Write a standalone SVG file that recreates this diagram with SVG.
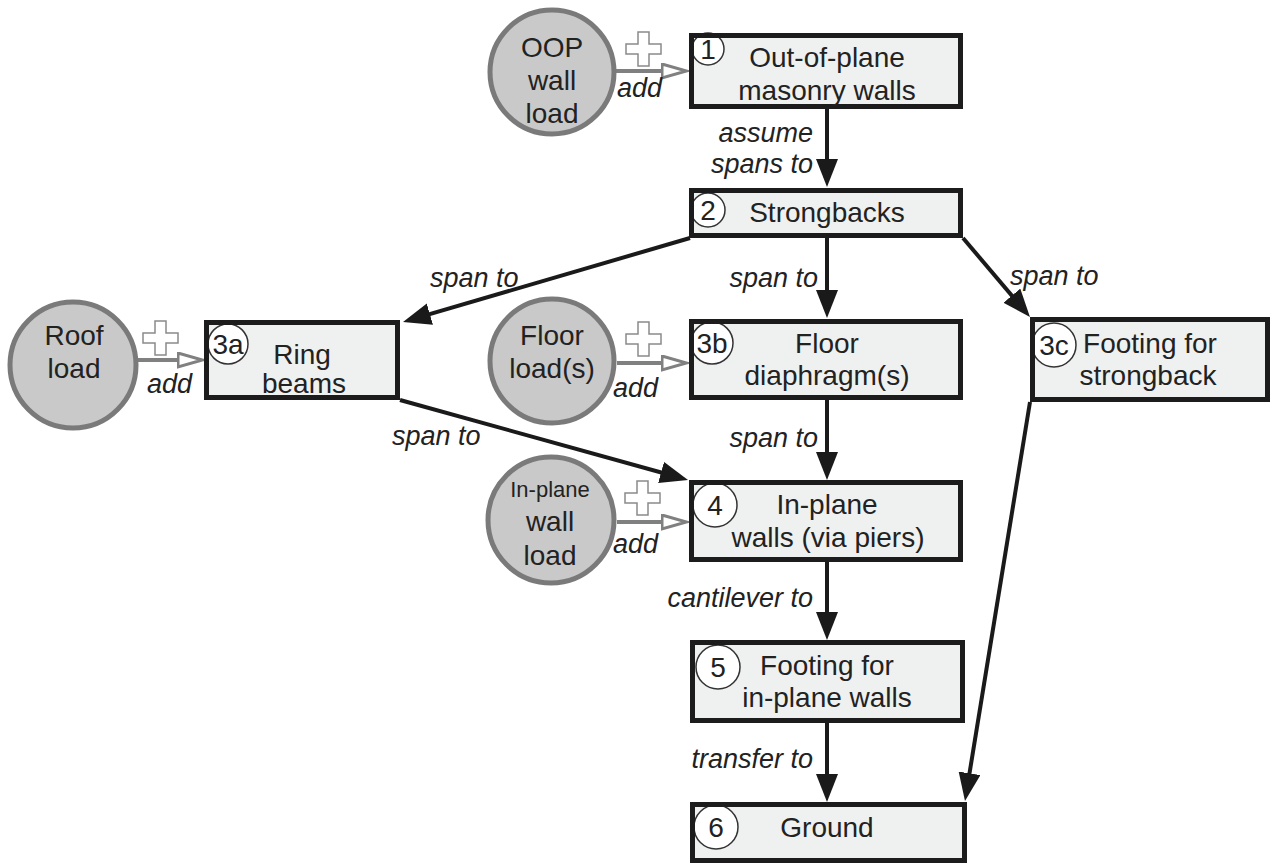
<svg xmlns="http://www.w3.org/2000/svg" xmlns:xlink="http://www.w3.org/1999/xlink" width="1271" height="865" viewBox="0 0 1271 865">
<defs>
<style>
.box{fill:#eff1f1;stroke:none}
.boxs{fill:none;stroke:#1c1c1c;stroke-width:5}
.num{fill:#fff;stroke:#333;stroke-width:1.5}
.load{fill:#c9c9c9;stroke:#7a7a7a;stroke-width:5}
.t{font-family:"Liberation Sans",Arial,sans-serif;font-size:28px;fill:#222;text-anchor:middle}
.ts{font-family:"Liberation Sans",Arial,sans-serif;font-size:22px;fill:#222;text-anchor:middle}
.lbl{font-family:"Liberation Sans",Arial,sans-serif;font-size:27px;font-style:italic;fill:#222}
.conn{stroke:#1a1a1a;stroke-width:4;fill:none;marker-end:url(#ah)}
.add{stroke:#808080;stroke-width:4;fill:none;marker-end:url(#hollow)}
.plus{fill:#fff;stroke:#8a8a8a;stroke-width:1.5}
</style>
<marker id="ah" markerUnits="userSpaceOnUse" markerWidth="30" markerHeight="24" refX="18" refY="11" orient="auto">
<path d="M0,0 L28,11 L0,22 Z" fill="#1a1a1a"/>
</marker>
<marker id="hollow" markerUnits="userSpaceOnUse" markerWidth="30" markerHeight="20" refX="1.5" refY="8.5" orient="auto">
<path d="M1.5,1.5 L26,8.5 L1.5,15.5 Z" fill="#fff" stroke="#808080" stroke-width="3"/>
</marker>
<path id="plus" class="plus" d="M12,0 H23 V12 H35 V22 H23 V34 H12 V22 H0 V12 H12 Z"/>
</defs>
<rect width="1271" height="865" fill="#fff"/>

<g id="connectors">
<line class="conn" x1="827" y1="109" x2="827" y2="177"/>
<line class="conn" x1="690" y1="238" x2="412.6" y2="319.2"/>
<line class="conn" x1="827" y1="238" x2="827" y2="308"/>
<line class="conn" x1="963" y1="238" x2="1023.5" y2="309.4"/>
<line class="conn" x1="400" y1="400" x2="678.4" y2="477.3"/>
<line class="conn" x1="827" y1="400" x2="827" y2="470"/>
<line class="conn" x1="827" y1="562" x2="827" y2="630"/>
<line class="conn" x1="827" y1="723" x2="827" y2="792"/>
<line class="conn" x1="1030" y1="402" x2="966.6" y2="791.1"/>
<line class="add" x1="615" y1="71" x2="662" y2="71"/>
<line class="add" x1="138" y1="360" x2="178" y2="360"/>
<line class="add" x1="617" y1="363" x2="662" y2="363"/>
<line class="add" x1="617" y1="522" x2="662" y2="522"/>
<use xlink:href="#plus" x="626" y="32"/>
<use xlink:href="#plus" x="143" y="321"/>
<use xlink:href="#plus" x="626" y="322"/>
<use xlink:href="#plus" x="625" y="481"/>
<text class="lbl" x="617" y="97">add</text>
<text class="lbl" x="147" y="393">add</text>
<text class="lbl" x="613" y="397">add</text>
<text class="lbl" x="613" y="553">add</text>
<text class="lbl" x="813" y="142" text-anchor="end">assume</text>
<text class="lbl" x="813" y="173" text-anchor="end">spans to</text>
<text class="lbl" x="430" y="287">span to</text>
<text class="lbl" x="818" y="287" text-anchor="end">span to</text>
<text class="lbl" x="1010" y="285">span to</text>
<text class="lbl" x="392" y="445">span to</text>
<text class="lbl" x="818" y="447" text-anchor="end">span to</text>
<text class="lbl" x="813" y="607" text-anchor="end">cantilever to</text>
<text class="lbl" x="813" y="768" text-anchor="end">transfer to</text>
</g>

<g id="load-oop">
<circle class="load" cx="552" cy="72" r="62"/>
<text class="t" x="552" y="57">OOP</text>
<text class="t" x="552" y="90">wall</text>
<text class="t" x="552" y="123">load</text>
</g>
<g id="load-roof">
<circle class="load" cx="73" cy="365" r="63"/>
<text class="t" x="74" y="345">Roof</text>
<text class="t" x="74" y="378">load</text>
</g>
<g id="load-floor">
<circle class="load" cx="552" cy="361" r="62"/>
<text class="t" x="552" y="345">Floor</text>
<text class="t" x="552" y="378">load(s)</text>
</g>
<g id="load-inplane">
<circle class="load" cx="551" cy="520" r="63"/>
<text class="ts" x="550" y="497">In-plane</text>
<text class="t" x="550" y="531">wall</text>
<text class="t" x="550" y="565">load</text>
</g>

<g id="n1">
<rect class="box" x="691.5" y="35.5" width="269" height="71"/>
<circle class="num" cx="708" cy="49" r="16"/>
<rect class="boxs" x="691.5" y="35.5" width="269" height="71"/>
<text class="t" x="708" y="59">1</text>
<text class="t" x="827" y="67">Out-of-plane</text>
<text class="t" x="827" y="100">masonry walls</text>
</g>
<g id="n2">
<rect class="box" x="691.5" y="190.5" width="269" height="45"/>
<circle class="num" cx="708" cy="210" r="17"/>
<rect class="boxs" x="691.5" y="190.5" width="269" height="45"/>
<text class="t" x="708" y="220">2</text>
<text class="t" x="827" y="222">Strongbacks</text>
</g>
<g id="n3a">
<rect class="box" x="206.5" y="322.5" width="191" height="75"/>
<circle class="num" cx="228" cy="344" r="20"/>
<rect class="boxs" x="206.5" y="322.5" width="191" height="75"/>
<text class="t" x="228" y="354">3a</text>
<text class="t" x="302" y="364">Ring</text>
<text class="t" x="304" y="393">beams</text>
</g>
<g id="n3b">
<rect class="box" x="691.5" y="321.5" width="269" height="76"/>
<circle class="num" cx="712" cy="343" r="21"/>
<rect class="boxs" x="691.5" y="321.5" width="269" height="76"/>
<text class="t" x="712" y="353">3b</text>
<text class="t" x="827" y="353">Floor</text>
<text class="t" x="827" y="385">diaphragm(s)</text>
</g>
<g id="n3c">
<rect class="box" x="1032.5" y="319.5" width="235" height="80"/>
<circle class="num" cx="1054" cy="345" r="22"/>
<rect class="boxs" x="1032.5" y="319.5" width="235" height="80"/>
<text class="t" x="1054" y="355">3c</text>
<text class="t" x="1150" y="353">Footing for</text>
<text class="t" x="1148" y="385">strongback</text>
</g>
<g id="n4">
<rect class="box" x="691.5" y="482.5" width="269" height="77"/>
<circle class="num" cx="715" cy="505" r="22"/>
<rect class="boxs" x="691.5" y="482.5" width="269" height="77"/>
<text class="t" x="715" y="515">4</text>
<text class="t" x="827" y="514">In-plane</text>
<text class="t" x="828" y="547">walls (via piers)</text>
</g>
<g id="n5">
<rect class="box" x="692.5" y="642.5" width="270" height="78"/>
<circle class="num" cx="718" cy="667" r="22"/>
<rect class="boxs" x="692.5" y="642.5" width="270" height="78"/>
<text class="t" x="718" y="677">5</text>
<text class="t" x="827" y="675">Footing for</text>
<text class="t" x="827" y="707">in-plane walls</text>
</g>
<g id="n6">
<rect class="box" x="692.5" y="804.5" width="272" height="56"/>
<circle class="num" cx="716" cy="827" r="22"/>
<rect class="boxs" x="692.5" y="804.5" width="272" height="56"/>
<text class="t" x="716" y="837">6</text>
<text class="t" x="827" y="837">Ground</text>
</g>
</svg>
